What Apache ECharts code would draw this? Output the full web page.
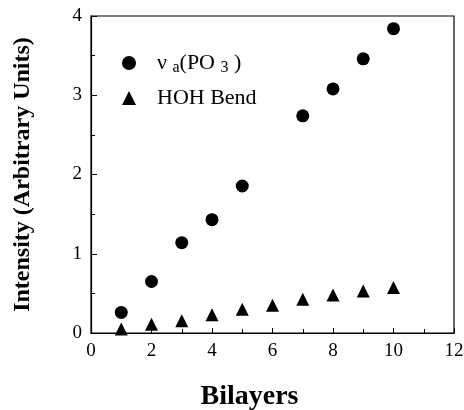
<!DOCTYPE html>
<html><head><meta charset="utf-8">
<script src="https://cdn.jsdelivr.net/npm/echarts@6/dist/echarts.min.js"></script>
<style>html,body{margin:0;padding:0;background:#fff}#c{width:464px;height:410px}</style>
</head><body><div id="c"></div>
<script>
const bilayersPO3 = [1, 2, 3, 4, 5, 7, 8, 9, 10];
const intensityPO3 = [0.26, 0.65, 1.14, 1.43, 1.855, 2.74, 3.08, 3.46, 3.84];
const bilayersHOH = [1, 2, 3, 4, 5, 6, 7, 8, 9, 10];
const intensityHOH = [0.05, 0.11, 0.155, 0.23, 0.30, 0.35, 0.425, 0.48, 0.53, 0.575];
const seriesNames = ['PO3', 'HOH Bend'];
const xTitle = 'Bilayers';
const yTitle = 'Intensity (Arbitrary Units)';

const font = 'Liberation Serif';
const chart = echarts.init(document.getElementById('c'));
chart.setOption({
  animation: false,
  backgroundColor: '#fff',
  grid: {left: 91, right: 10, top: 16, bottom: 77, outerBoundsMode: 'none', containLabel: false,
         show: true, borderColor: '#000', borderWidth: 1.2},
  legend: {
    orient: 'vertical', left: 117, top: 47, itemGap: 11, itemWidth: 14, itemHeight: 14,
    data: [{name: seriesNames[0], icon: 'circle'}, {name: seriesNames[1], icon: 'triangle'}],
    formatter: function (n) {
      if (n === 'PO3') return '{n|ν }{s|a}{n|(PO }{s|3}{n| )}';
      return '{n|' + n + '}';
    },
    textStyle: {
      fontFamily: font, fontSize: 22, color: '#000', padding: [0, 0, 0, 16],
      rich: {
        n: {fontFamily: font, fontSize: 22, color: '#000'},
        s: {fontFamily: font, fontSize: 16, color: '#000', padding: [10, 0, 0, 0]}
      }
    }
  },
  xAxis: {
    type: 'value', min: 0, max: 12, interval: 2,
    name: xTitle, nameLocation: 'middle', nameGap: 50,
    nameTextStyle: {fontFamily: font, fontSize: 28, fontWeight: 'bold', color: '#000', padding: [0, 46, 0, 0]},
    axisLine: {lineStyle: {color: '#000', width: 1.2}},
    axisTick: {inside: true, length: 5, lineStyle: {color: '#000'}},
    minorTick: {show: true, splitNumber: 2, length: 4, lineStyle: {color: '#000'}},
    axisLabel: {fontFamily: font, fontSize: 19, color: '#000', margin: 9},
    splitLine: {show: false}
  },
  yAxis: {
    type: 'value', min: 0, max: 4, interval: 1,
    name: yTitle, nameLocation: 'middle', nameGap: 56,
    nameTextStyle: {fontFamily: font, fontSize: 24, fontWeight: 'bold', color: '#000'},
    axisLine: {lineStyle: {color: '#000', width: 1.2}},
    axisTick: {inside: true, length: 6, lineStyle: {color: '#000'}},
    minorTick: {show: true, splitNumber: 2, length: 4, lineStyle: {color: '#000'}},
    axisLabel: {fontFamily: font, fontSize: 19, color: '#000', margin: 9},
    splitLine: {show: false}
  },
  series: [
    {name: seriesNames[0], type: 'scatter', symbol: 'circle', symbolSize: 13,
     itemStyle: {color: '#000', opacity: 1}, data: bilayersPO3.map((x, i) => [x, intensityPO3[i]])},
    {name: seriesNames[1], type: 'scatter', symbol: 'triangle', symbolSize: 13,
     itemStyle: {color: '#000', opacity: 1}, data: bilayersHOH.map((x, i) => [x, intensityHOH[i]])}
  ]
});
</script></body></html>
